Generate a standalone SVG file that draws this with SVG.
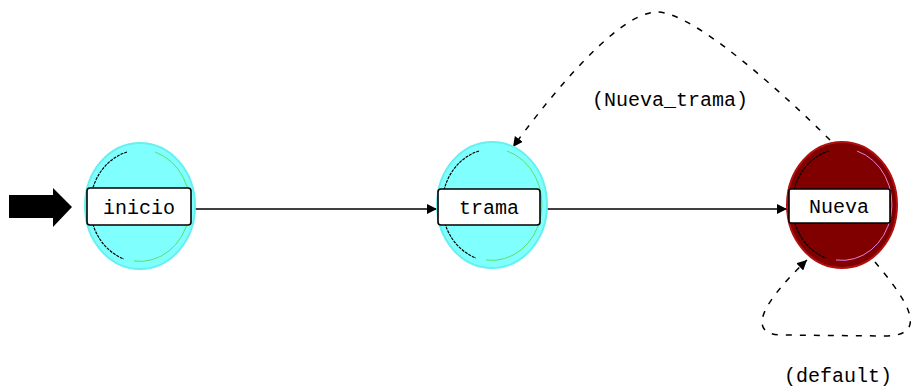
<svg xmlns="http://www.w3.org/2000/svg" width="911" height="387" viewBox="0 0 911 387">
<style>
.lbl{font-family:"Liberation Mono","DejaVu Sans Mono",monospace;font-size:20px;fill:#000;text-anchor:middle}
.box{fill:#fff;stroke:#000;stroke-width:1.6}
.cy{fill:#80ffff;stroke:#66f0f0;stroke-width:2}
.rd{fill:#800000;stroke:#b01010;stroke-width:2}
.edge{fill:none;stroke:#000;stroke-width:1.5}
.dash{fill:none;stroke:#000;stroke-width:1.5;stroke-dasharray:6 8}
.arcL{fill:none;stroke:#000;stroke-width:1.2;stroke-dasharray:3 1}
</style>
<defs>
<marker id="ah" viewBox="0 0 10 10" refX="10" refY="5" markerWidth="10" markerHeight="10" markerUnits="userSpaceOnUse" orient="auto">
<path d="M0,0 L10,5 L0,10 z" fill="#000"/>
</marker>
</defs>
<rect width="911" height="387" fill="#fff"/>
<g id="start-arrow">
<path d="M9,195 L53,195 L53,188 L72,207 L53,227 L53,218 L9,218 z" fill="#000"/>
</g>
<g id="connectors">
<line class="edge" x1="191" y1="209" x2="437" y2="209" marker-end="url(#ah)"/>
<line class="edge" x1="540" y1="209" x2="787" y2="209" marker-end="url(#ah)"/>
<path class="dash" d="M830,140 C790,100 695,12 657,12 C615,12 540,110 513,147" marker-end="url(#ah)"/>
<path class="dash" d="M875,262 C900,292 935,336 885,336 L780,335 C745,333 765,300 807,260" marker-end="url(#ah)"/>
<text class="lbl" x="670" y="106">(Nueva_trama)</text>
<text class="lbl" x="838" y="382">(default)</text>
</g>
<g id="inicio">
<ellipse class="cy" cx="140" cy="206" rx="55" ry="63"/>
<path class="arcL" d="M127,152 A50,56 0 0 0 124,259"/>
<path d="M155,152 A50,56 0 0 1 134,261" fill="none" stroke="#5fe05f" stroke-width="1"/>
<rect class="box" x="87" y="188" width="104" height="37" rx="3"/>
<text class="lbl" x="139" y="214">inicio</text>
</g>
<g id="trama">
<ellipse class="cy" cx="492" cy="205" rx="55" ry="63"/>
<path class="arcL" d="M479,151 A50,56 0 0 0 476,258"/>
<path d="M507,151 A50,56 0 0 1 486,260" fill="none" stroke="#5fe05f" stroke-width="1"/>
<rect class="box" x="438" y="189" width="102" height="36" rx="3"/>
<text class="lbl" x="489" y="214">trama</text>
</g>
<g id="Nueva">
<ellipse class="rd" cx="842" cy="205" rx="55" ry="63"/>
<path class="arcL" d="M829,151 A50,56 0 0 0 826,258"/>
<path d="M857,151 A50,56 0 0 1 836,260" fill="none" stroke="#e080e0" stroke-width="1"/>
<rect class="box" x="789" y="189" width="101" height="34" rx="2"/>
<text class="lbl" x="839" y="213">Nueva</text>
</g>
</svg>
